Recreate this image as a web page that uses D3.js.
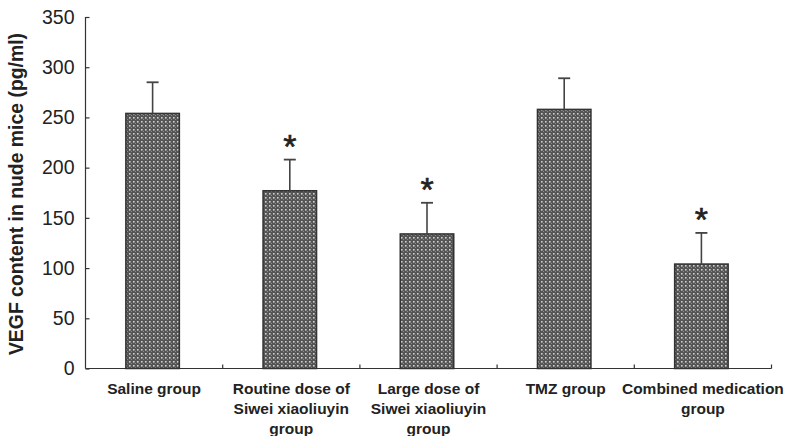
<!DOCTYPE html>
<html><head><meta charset="utf-8">
<script src="https://cdn.jsdelivr.net/npm/d3@7"></script>
<style>body{margin:0;background:#fff}svg{display:block}</style>
</head><body>
<script>
const categories = ["Saline group","Routine dose of Siwei xiaoliuyin group","Large dose of Siwei xiaoliuyin group","TMZ group","Combined medication group"];
const categoryLines = [["Saline group"],["Routine dose of","Siwei xiaoliuyin","group"],["Large dose of","Siwei xiaoliuyin","group"],["TMZ group"],["Combined medication","group"]];
const values = [254, 177, 134, 258, 104];
const errors = [31, 31, 31, 31, 31];
const significant = [false, true, true, false, true];
const yTicks = [0, 50, 100, 150, 200, 250, 300, 350];
const yLabel = "VEGF content in nude mice (pg/ml)";

const W = 788, H = 436;
const svg = d3.select("body").append("svg").attr("width", W).attr("height", H);
const defs = svg.append("defs");
const pat = defs.append("pattern").attr("id","dots").attr("patternUnits","userSpaceOnUse")
  .attr("width",4).attr("height",4);
pat.append("rect").attr("width",4).attr("height",4).attr("fill","#555");
pat.append("rect").attr("x",1).attr("y",1).attr("width",1.6).attr("height",1.6).attr("fill","#cfcfcf");
pat.append("rect").attr("x",3).attr("y",3).attr("width",1).attr("height",1).attr("fill","#8a8a8a");

const x = d3.scaleBand().domain(categories).range([85.5, 771.5]).padding(0);
const y = d3.scaleLinear().domain([0, 350]).range([368.5, 17]);
const barW = x.bandwidth() * 0.39;
const font = "'Liberation Sans', Arial, sans-serif";
const axisColor = "#333";

// bars
const g = svg.append("g");
g.selectAll("rect.bar").data(categories).join("rect").attr("class","bar")
  .attr("x", d => x(d) + x.bandwidth()/2 - barW/2 - 1.5)
  .attr("width", barW)
  .attr("y", (d,i) => y(values[i]))
  .attr("height", (d,i) => y(0) - y(values[i]))
  .attr("fill","url(#dots)").attr("stroke","#333").attr("stroke-width",1.5);

// error bars
const capW = 12;
categories.forEach((c,i) => {
  const cx = x(c) + x.bandwidth()/2 - 1.5;
  g.append("line").attr("x1",cx).attr("x2",cx).attr("y1",y(values[i])).attr("y2",y(values[i]+errors[i]))
    .attr("stroke","#444").attr("stroke-width",1.6);
  g.append("line").attr("x1",cx-capW/2).attr("x2",cx+capW/2).attr("y1",y(values[i]+errors[i])).attr("y2",y(values[i]+errors[i]))
    .attr("stroke","#444").attr("stroke-width",1.8);
  if (significant[i]) {
    g.append("text").attr("x",cx).attr("y",y(values[i]+errors[i]) - 2)
      .attr("text-anchor","middle").attr("font-family",font).attr("font-size",34)
      .attr("fill","#222").attr("stroke","#222").attr("stroke-width",0.6).text("*");
  }
});

// y axis
const yAxis = d3.axisLeft(y).tickValues(yTicks).tickSize(-4).tickPadding(11);
const ya = svg.append("g").attr("transform","translate(85.5,0)").call(yAxis);
ya.select(".domain").attr("stroke",axisColor).attr("stroke-width",1.2).attr("d","M0,17V368.5");
ya.selectAll(".tick line").attr("stroke",axisColor).attr("stroke-width",1.2);
ya.selectAll(".tick text").attr("font-family",font).attr("font-size",19.5).attr("fill","#222");

// x axis
const xa = svg.append("g").attr("transform","translate(0,368.5)");
xa.append("line").attr("x1",85.5).attr("x2",771.5).attr("y1",0).attr("y2",0).attr("stroke",axisColor).attr("stroke-width",1.2);
xa.selectAll("line.tk").data(categories).join("line").attr("class","tk")
  .attr("x1",d => x(d)+x.bandwidth()).attr("x2",d => x(d)+x.bandwidth())
  .attr("y1",0).attr("y2",-4).attr("stroke",axisColor).attr("stroke-width",1.2);

categoryLines.forEach((lines,i) => {
  const cx = x(categories[i]) + x.bandwidth()/2;
  lines.forEach((t,j) => {
    svg.append("text").attr("x",cx).attr("y",394 + j*20).attr("text-anchor","middle")
      .attr("font-family",font).attr("font-weight","bold").attr("font-size",15.5).attr("fill","#222").text(t);
  });
});

// y label
svg.append("text").attr("transform","translate(23,194) rotate(-90)").attr("text-anchor","middle")
  .attr("font-family",font).attr("font-weight","bold").attr("font-size",19.4).attr("fill","#222").text(yLabel);
</script>
</body></html>
